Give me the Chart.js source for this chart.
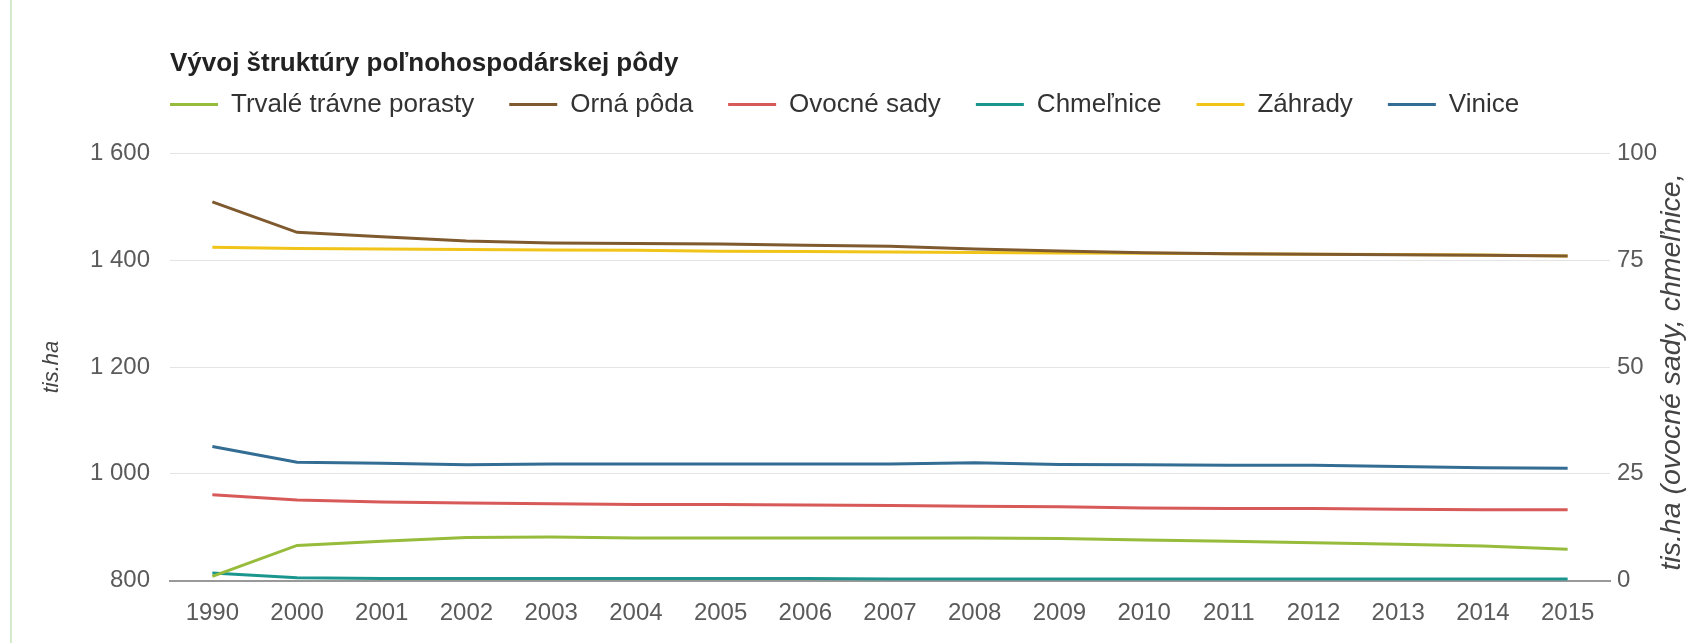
<!DOCTYPE html>
<html>
<head>
<meta charset="utf-8">
<script src="https://cdn.jsdelivr.net/npm/chart.js@4"></script>
<style>
  html, body { margin: 0; padding: 0; background: #fff; }
  #wrap { position: relative; width: 1688px; height: 643px; }
  #edge { position: absolute; left: 10px; top: 0; width: 2px; height: 643px; background: #d3ebcc; }
  canvas { position: absolute; left: 0; top: 0; }
</style>
</head>
<body>
<div id="wrap">
  <div id="edge"></div>
  <canvas id="c" width="1688" height="643"></canvas>
</div>
<script>
const chartTitle = 'Vývoj štruktúry poľnohospodárskej pôdy';
const leftAxisTitle = 'tis.ha';
const rightAxisTitle = 'tis.ha (ovocné sady, chmeľnice,';

const categories = ['1990','2000','2001','2002','2003','2004','2005','2006','2007','2008','2009','2010','2011','2012','2013','2014','2015'];

const seriesNames = ['Trvalé trávne porasty', 'Orná pôda', 'Ovocné sady', 'Chmeľnice', 'Záhrady', 'Vinice'];

// left axis (tis. ha)
const trvaleTravnePorasty = [808, 866, 874, 881, 882, 880, 880, 880, 880, 880, 879, 876, 874, 871, 868, 865, 859];
const ornaPoda            = [1509, 1452, 1444, 1436, 1432, 1431, 1430, 1428, 1426, 1421, 1417, 1414, 1412, 1411, 1410, 1409, 1408];
// right axis (tis. ha)
const ovocneSady = [20.1, 18.9, 18.4, 18.2, 18.0, 17.8, 17.8, 17.7, 17.6, 17.4, 17.3, 17.0, 16.9, 16.9, 16.7, 16.6, 16.6];
const chmelnice  = [1.8, 0.7, 0.5, 0.5, 0.5, 0.5, 0.5, 0.5, 0.4, 0.4, 0.4, 0.4, 0.4, 0.4, 0.4, 0.4, 0.4];
const zahrady    = [78.0, 77.7, 77.6, 77.5, 77.4, 77.3, 77.1, 77.0, 76.9, 76.8, 76.7, 76.6, 76.5, 76.4, 76.3, 76.2, 76.0];
const vinice     = [31.4, 27.7, 27.5, 27.1, 27.3, 27.3, 27.3, 27.3, 27.3, 27.6, 27.2, 27.1, 27.0, 27.0, 26.7, 26.4, 26.3];

const leftTicks = [800, 1000, 1200, 1400, 1600];
const rightTicks = [0, 25, 50, 75, 100];

const colors = ['#97bb3b', '#7f5a2f', '#d75a58', '#1a968f', '#f0c419', '#336d93'];

const FONT = '"Liberation Sans", Arial, Helvetica, sans-serif';

function ds(i, data, axis) {
  return {
    label: seriesNames[i], data, yAxisID: axis,
    borderColor: colors[i], backgroundColor: colors[i],
    borderWidth: 3, pointRadius: 0, pointHoverRadius: 0, tension: 0, fill: false
  };
}

const legendShift = {
  id: 'legendShift',
  afterLayout(chart) {
    const lg = chart.legend;
    if (!lg) return;
    const pad = lg.options.labels.padding;
    lg.left -= pad; lg.right -= pad;
    lg.top -= 25.7; lg.bottom -= 25.7;
  }
};

const rightTitlePlugin = {
  id: 'rightTitle',
  afterDraw(chart) {
    const { ctx, chartArea } = chart;
    ctx.save();
    ctx.translate(chart.width - 16, (chartArea.top + chartArea.bottom) / 2 + 5);
    ctx.rotate(-Math.PI / 2);
    ctx.font = 'italic 28.5px ' + FONT;
    ctx.fillStyle = '#444';
    ctx.textAlign = 'center';
    ctx.textBaseline = 'middle';
    ctx.fillText(rightAxisTitle, 0, 0);
    ctx.restore();
  }
};

const fmt = v => String(v).replace(/\B(?=(\d{3})+(?!\d))/g, ' ');

new Chart(document.getElementById('c'), {
  type: 'line',
  data: {
    labels: categories,
    datasets: [
      ds(0, trvaleTravnePorasty, 'y'),
      ds(1, ornaPoda, 'y'),
      ds(2, ovocneSady, 'y1'),
      ds(3, chmelnice, 'y1'),
      ds(4, zahrady, 'y1'),
      ds(5, vinice, 'y1')
    ]
  },
  plugins: [legendShift, rightTitlePlugin],
  options: {
    responsive: false,
    devicePixelRatio: 1,
    animation: false,
    layout: { padding: { top: 48.4, left: 18, right: 0, bottom: 0 } },
    plugins: {
      title: {
        display: true, text: chartTitle, align: 'start', fullSize: false,
        color: '#222', font: { family: FONT, size: 26, weight: 'bold' },
        padding: { top: 0, bottom: 2.7 }
      },
      legend: {
        display: true, position: 'top', align: 'start', fullSize: false,
        labels: {
          usePointStyle: true, pointStyle: 'line', pointStyleWidth: 48,
          padding: 35, color: '#333', font: { family: FONT, size: 26 }
        }
      },
      tooltip: { enabled: false }
    },
    scales: {
      x: {
        offset: true,
        grid: { display: false, drawTicks: false },
        border: { display: true, color: '#999', width: 2 },
        ticks: { color: '#5a5a5a', font: { family: FONT, size: 24 }, padding: 18, maxRotation: 0, autoSkip: false },
        afterFit(s) { s.height = 62.3; }
      },
      y: {
        position: 'left', min: 800, max: 1600,
        afterBuildTicks(s) { s.ticks = leftTicks.map(v => ({ value: v })); },
        grid: { color: '#e4e4e4', lineWidth: 1, drawTicks: false },
        border: { display: false },
        ticks: { color: '#5a5a5a', font: { family: FONT, size: 24 }, padding: 20, callback: v => fmt(v) },
        title: { display: true, text: leftAxisTitle, color: '#444', font: { family: FONT, size: 22, style: 'italic' }, padding: { top: 21, bottom: 0 } },
        afterFit(s) { s.width = 152; }
      },
      y1: {
        position: 'right', min: 0, max: 100,
        afterBuildTicks(s) { s.ticks = rightTicks.map(v => ({ value: v })); },
        grid: { display: false, drawTicks: false },
        border: { display: false },
        ticks: { color: '#5a5a5a', font: { family: FONT, size: 24 }, padding: 7 },
        afterFit(s) { s.width = 78; }
      }
    }
  }
});
</script>
</body>
</html>
